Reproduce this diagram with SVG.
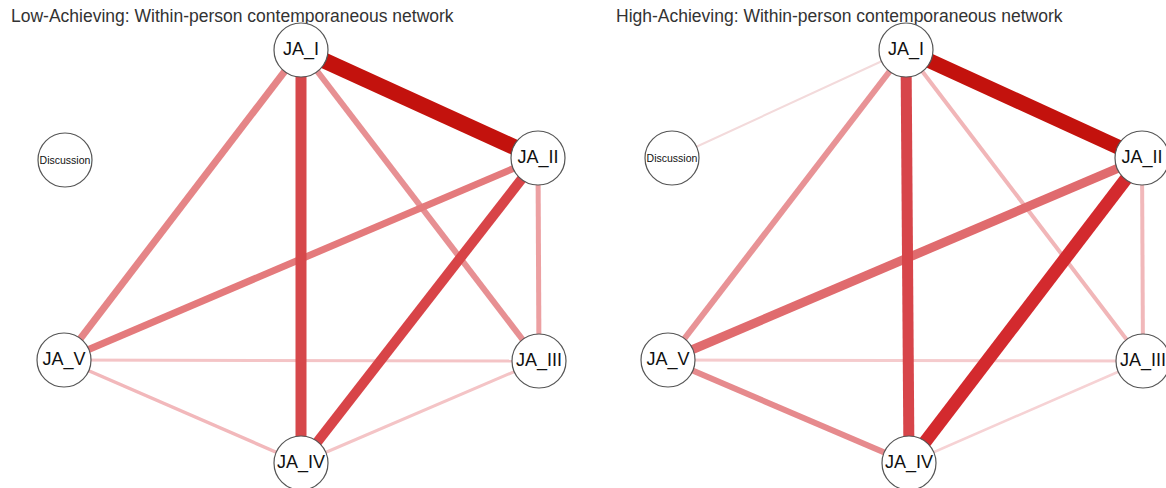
<svg xmlns="http://www.w3.org/2000/svg" width="1166" height="488" viewBox="0 0 1166 488">
<style>
.t{font-family:"Liberation Sans",Arial,sans-serif;font-size:17.5px;fill:#333}
.n circle{fill:#fff;stroke:#555;stroke-width:1.2}
.n text{font-family:"Liberation Sans",Arial,sans-serif;font-size:18px;fill:#111;text-anchor:middle;dominant-baseline:central}
.n text.s{font-size:10.5px}
.e line{stroke-linecap:butt}
</style>
<rect width="1166" height="488" fill="#fff"/>
<text class="t" x="11" y="22">Low-Achieving: Within-person contemporaneous network</text>
<text class="t" x="616" y="22">High-Achieving: Within-person contemporaneous network</text>
<g id="connectors-left" class="e">
<line x1="64" y1="360" x2="539" y2="361" stroke="#f4c4c6" stroke-width="3"/>
<line x1="64" y1="360" x2="301" y2="463" stroke="#f2b8bb" stroke-width="3.5"/>
<line x1="539" y1="361" x2="301" y2="463" stroke="#f4c4c6" stroke-width="3"/>
<line x1="538" y1="158" x2="539" y2="361" stroke="#eca0a2" stroke-width="5"/>
<line x1="301" y1="50" x2="539" y2="361" stroke="#e79093" stroke-width="6"/>
<line x1="301" y1="50" x2="64" y2="360" stroke="#e58587" stroke-width="7"/>
<line x1="538" y1="158" x2="64" y2="360" stroke="#e47a7c" stroke-width="7"/>
<line x1="538" y1="158" x2="301" y2="463" stroke="#d84448" stroke-width="10"/>
<line x1="301" y1="50" x2="301" y2="463" stroke="#d6484b" stroke-width="11"/>
<line x1="301" y1="50" x2="538" y2="158" stroke="#c3120d" stroke-width="16"/>
</g>
<g id="connectors-right" class="e">
<line x1="906" y1="50" x2="672" y2="158" stroke="#f3dadb" stroke-width="2"/>
<line x1="668" y1="360" x2="1143" y2="361" stroke="#f5cbcd" stroke-width="3"/>
<line x1="1143" y1="361" x2="909" y2="463" stroke="#f6d2d4" stroke-width="2.5"/>
<line x1="1142" y1="158" x2="1143" y2="361" stroke="#f1b8ba" stroke-width="4"/>
<line x1="906" y1="50" x2="1143" y2="361" stroke="#f1b6b8" stroke-width="4"/>
<line x1="906" y1="50" x2="668" y2="360" stroke="#e89396" stroke-width="6"/>
<line x1="668" y1="360" x2="909" y2="463" stroke="#e68a8d" stroke-width="6"/>
<line x1="1142" y1="158" x2="668" y2="360" stroke="#e06b6e" stroke-width="9"/>
<line x1="906" y1="50" x2="909" y2="463" stroke="#d7454a" stroke-width="11"/>
<line x1="1142" y1="158" x2="909" y2="463" stroke="#d32a2e" stroke-width="13"/>
<line x1="906" y1="50" x2="1142" y2="158" stroke="#c3120d" stroke-width="15"/>
</g>
<g id="L-Discussion" class="n"><circle cx="65" cy="160" r="27"/><text class="s" x="65" y="160">Discussion</text></g>
<g id="L-JA_I" class="n"><circle cx="301" cy="50" r="27"/><text x="301" y="49">JA_I</text></g>
<g id="L-JA_II" class="n"><circle cx="538" cy="158" r="27"/><text x="538" y="157">JA_II</text></g>
<g id="L-JA_III" class="n"><circle cx="539" cy="361" r="27"/><text x="539" y="360">JA_III</text></g>
<g id="L-JA_IV" class="n"><circle cx="301" cy="463" r="27"/><text x="301" y="462">JA_IV</text></g>
<g id="L-JA_V" class="n"><circle cx="64" cy="360" r="27"/><text x="64" y="359">JA_V</text></g>
<g id="R-Discussion" class="n"><circle cx="672" cy="158" r="27"/><text class="s" x="672" y="158">Discussion</text></g>
<g id="R-JA_I" class="n"><circle cx="906" cy="50" r="27"/><text x="906" y="49">JA_I</text></g>
<g id="R-JA_II" class="n"><circle cx="1142" cy="158" r="27"/><text x="1142" y="157">JA_II</text></g>
<g id="R-JA_III" class="n"><circle cx="1143" cy="361" r="27"/><text x="1143" y="360">JA_III</text></g>
<g id="R-JA_IV" class="n"><circle cx="909" cy="463" r="27"/><text x="909" y="462">JA_IV</text></g>
<g id="R-JA_V" class="n"><circle cx="668" cy="360" r="27"/><text x="668" y="359">JA_V</text></g>
</svg>
